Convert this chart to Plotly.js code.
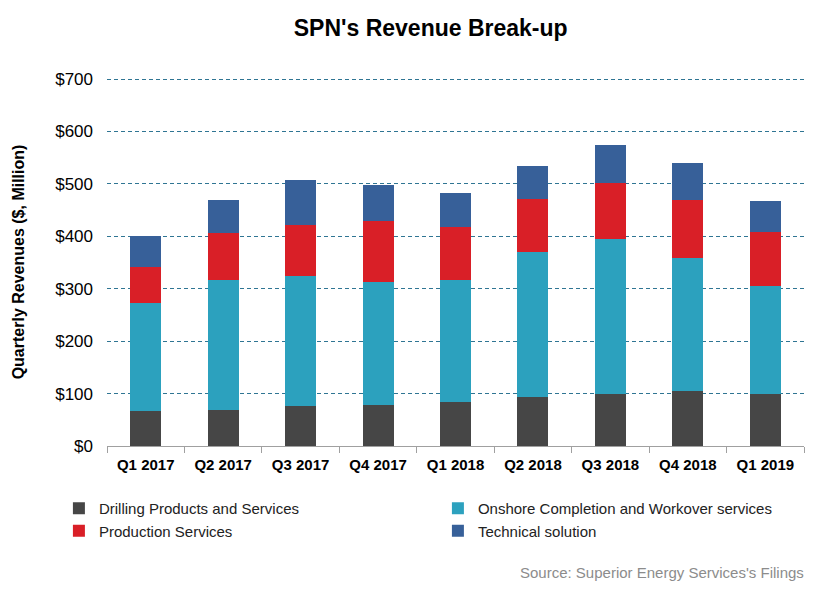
<!DOCTYPE html>
<html>
<head>
<meta charset="utf-8">
<script src="https://cdn.plot.ly/plotly-3.0.1.min.js"></script>
<style>html,body{margin:0;padding:0;background:#fff;}#chart{width:833px;height:597px;}</style>
</head>
<body>
<div id="chart"></div>
<script>
const quarters = ["Q1 2017","Q2 2017","Q3 2017","Q4 2017","Q1 2018","Q2 2018","Q3 2018","Q4 2018","Q1 2019"];
const drilling = [67, 69, 76, 78, 84, 94, 99, 105, 99];
const onshore = [206, 248, 249, 234, 233, 277, 295, 254, 207];
const production = [69, 90, 97, 118, 100, 101, 107, 111, 103];
const technical = [59, 63, 85, 67, 65, 63, 73, 69, 58];
const yTickVals = [0,100,200,300,400,500,600,700];
const yTickText = ["$0","$100","$200","$300","$400","$500","$600","$700"];

const names = ["Drilling Products and Services","Onshore Completion and Workover services","Production Services","Technical solution"];
const colors = ["#464646","#2ca1be","#d91f27","#376099"];
const series = [drilling, onshore, production, technical];

const data = series.map((s,i)=>({
  type:'bar', x:quarters, y:s, name:names[i],
  marker:{color:colors[i], line:{width:0}},
  hoverinfo:'y+name'
}));

const layout = {
  width:833, height:597,
  barmode:'stack', bargap:0.6,
  paper_bgcolor:'#fff', plot_bgcolor:'#fff',
  margin:{l:107, r:29, t:78, b:151, autoexpand:false},
  font:{family:'Liberation Sans, Arial, sans-serif', color:'#000'},
  title:{text:"<b>SPN's Revenue Break-up</b>", font:{size:23, color:'#000'}, x:0.517, xanchor:'center', y:0.953, yanchor:'middle'},
  xaxis:{
    type:'category', showgrid:false, showline:true, linecolor:'#a0a0a0', linewidth:1,
    ticks:'outside', tickson:'boundaries', ticklen:6, tickcolor:'#a0a0a0',
    ticklabelstandoff:5,
    tickfont:{size:15, color:'#000', family:'Liberation Sans, Arial, sans-serif', weight:'bold'},
    fixedrange:true
  },
  yaxis:{
    range:[0,702], tickvals:yTickVals, ticktext:yTickText,
    showgrid:true, gridcolor:'#2f7593', griddash:'4px,3px', gridwidth:1,
    showline:false, zeroline:false, ticks:'', ticklen:0, ticklabelstandoff:13,
    tickfont:{size:17, color:'#000'},
    title:{text:"<b>Quarterly Revenues ($, Million)</b>", font:{size:16, color:'#000'}, standoff:26},
    fixedrange:true
  },
  showlegend:true,
  legend:{orientation:'h', x:-0.069, xanchor:'left', y:-0.125, yanchor:'top',
    entrywidth:334, entrywidthmode:'pixels', traceorder:'normal',
    font:{size:15, color:'#222'}, itemwidth:30, tracegroupgap:0, bgcolor:'rgba(0,0,0,0)'},
  annotations:[{
    text:"Source: Superior Energy Services's Filings", xref:'paper', yref:'paper',
    x:1.003, y:-0.345, xanchor:'right', yanchor:'middle', showarrow:false,
    font:{size:15, color:'#8c8c8c'}
  }]
};

Plotly.newPlot('chart', data, layout, {displayModeBar:false, staticPlot:true});
</script>
</body>
</html>
